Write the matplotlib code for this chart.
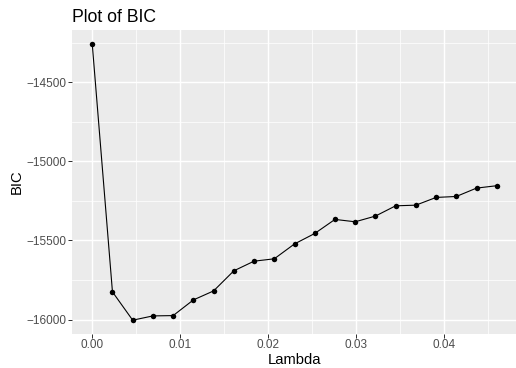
import matplotlib
matplotlib.use("Agg")
import matplotlib.pyplot as plt
from matplotlib.ticker import FixedLocator, FormatStrFormatter

lam = [0.0000, 0.0023, 0.0046, 0.0069, 0.0092, 0.0115, 0.0138, 0.0161, 0.0184, 0.0207,
       0.0230, 0.0253, 0.0276, 0.0299, 0.0322, 0.0345, 0.0368, 0.0391, 0.0414, 0.0437, 0.0460]
bic = [-14257, -15825, -16004, -15977, -15975, -15876, -15819, -15692, -15631, -15616,
       -15522, -15456, -15367, -15382, -15346, -15281, -15277, -15228, -15222, -15169, -15154]
x_ticks = [0.00, 0.01, 0.02, 0.03, 0.04]
y_ticks = [-16000, -15500, -15000, -14500]

plt.rcParams['font.family'] = ['Liberation Sans', 'DejaVu Sans']

W, H = 516, 368
fig = plt.figure(figsize=(W / 72, H / 72), dpi=72)
# panel in pixels: left 72, top 30, bottom 334, right runs off the edge
ax = fig.add_axes([72 / W, (H - 334) / H, (517 - 72) / W, (334 - 30) / H])
ax.set_facecolor('#EBEBEB')
for s in ax.spines.values():
    s.set_visible(False)

ax.plot(lam, bic, color='black', lw=1.1, zorder=3)
ax.scatter(lam, bic, s=30, color='black', zorder=4, linewidths=0)

# ggplot style 5% expansion
xr = max(lam) - min(lam)
yr = max(bic) - min(bic)
ax.set_xlim(min(lam) - 0.05 * xr, max(lam) + 0.05 * xr)
ax.set_ylim(min(bic) - 0.05 * yr, max(bic) + 0.05 * yr)

ax.xaxis.set_major_locator(FixedLocator(x_ticks))
ax.xaxis.set_minor_locator(FixedLocator([t + 0.005 for t in x_ticks]))
ax.yaxis.set_major_locator(FixedLocator(y_ticks))
ax.yaxis.set_minor_locator(FixedLocator([-16250, -15750, -15250, -14750, -14250]))
ax.xaxis.set_major_formatter(FormatStrFormatter('%.2f'))
ax.set_yticklabels(['\u2212' + str(abs(v)) for v in y_ticks])

ax.grid(which='major', color='white', lw=1.42)
ax.grid(which='minor', color='white', lw=0.71)
ax.set_axisbelow(True)
ax.tick_params(which='major', length=3.67, width=1.0, color='#333333',
               labelcolor='#4D4D4D', labelsize=11.7, pad=1.5)
ax.tick_params(which='minor', length=0)

ax.set_xlabel('Lambda', fontsize=14.7, labelpad=2)
ax.set_ylabel('BIC', fontsize=14.7, labelpad=3)
ax.set_title('Plot of BIC', loc='left', fontsize=17.6, pad=8)

fig.savefig('out.png', dpi=72)
